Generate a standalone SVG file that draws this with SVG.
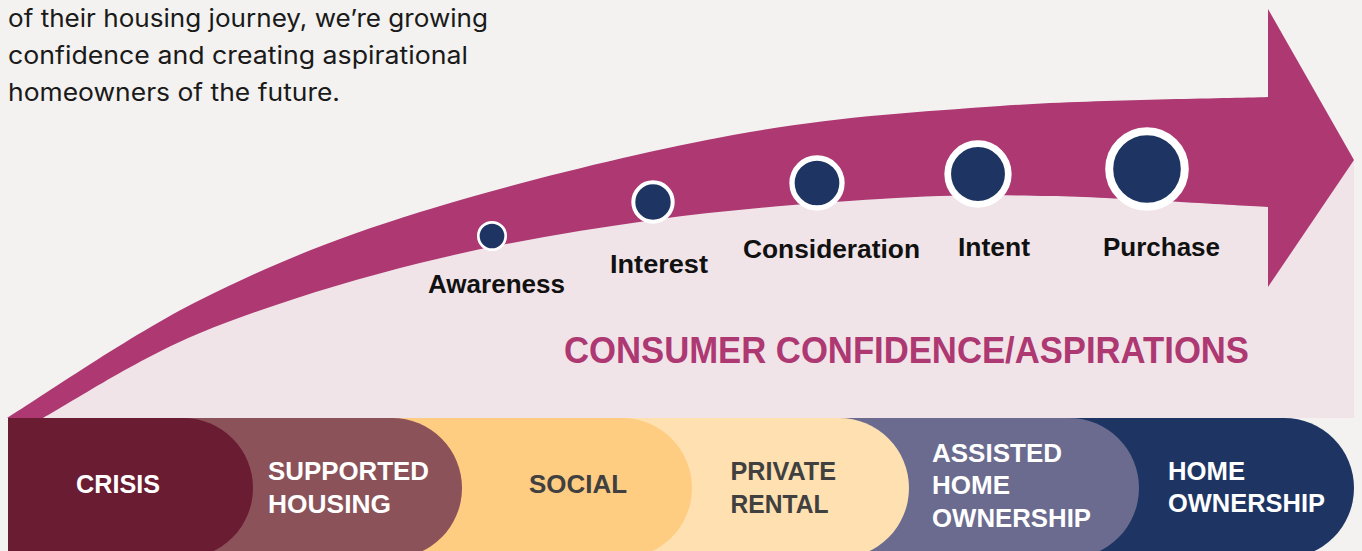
<svg xmlns="http://www.w3.org/2000/svg" width="1362" height="551" viewBox="0 0 1362 551">
<style>
.body{font-family:Inter,"Liberation Sans",sans-serif;font-size:24.5px;fill:#1a1a1a}
.stage{font-family:"Liberation Sans",Arial,sans-serif;font-weight:bold;font-size:25.5px;fill:#111111}
.band{font-family:"Liberation Sans",Arial,sans-serif;font-weight:bold;font-size:25.5px}
.w{fill:#ffffff}
.d{fill:#404040}
.dot{fill:#1e3563;stroke:#ffffff}
</style>
<rect x="0" y="0" width="1362" height="551" fill="#f3f2f0"/>
<g id="intro-text">
<text class="body" x="8" y="27" textLength="480" lengthAdjust="spacingAndGlyphs">of their housing journey, we’re growing</text>
<text class="body" x="8" y="63.5" textLength="460" lengthAdjust="spacingAndGlyphs">confidence and creating aspirational</text>
<text class="body" x="8" y="100.5" textLength="332" lengthAdjust="spacingAndGlyphs">homeowners of the future.</text>
</g>
<g id="confidence-area">
<path d="M43,418 C69.2,403.8 137.2,358.8 200,333 C262.8,307.2 344.5,281.8 420,263 C495.5,244.2 576.3,230.7 653,220 C729.7,209.3 813.8,203 880,199 C946.2,195 985.5,194.7 1050,196 C1114.5,197.3 1230.8,205.2 1267,207 L1268,160 L1354,160 L1354,418 Z" fill="#f0e4e8"/>
</g>
<g id="arrow">
<path d="M7,418 C39.2,398.3 131.2,334.3 200,300 C268.8,265.7 331.2,239.5 420,212 C508.8,184.5 636.3,152.7 733,135 C829.7,117.3 911,112.3 1000,106 C1089,99.7 1222.5,98.5 1268,97 L1268,9 L1354,160 L1268,287 L1268,207 C1230.8,205.2 1114.5,197.3 1050,196 C985.5,194.7 946.2,195 880,199 C813.8,203 729.7,209.3 653,220 C576.3,230.7 495.5,244.2 420,263 C344.5,281.8 262.8,307.2 200,333 C137.2,358.8 69.2,403.8 43,418 Z" fill="#ad3872"/>
</g>
<g id="stage-awareness">
<circle class="dot" cx="492" cy="236" r="13.7" stroke-width="2.7"/>
<text class="stage" x="428" y="293" textLength="137" lengthAdjust="spacingAndGlyphs">Awareness</text>
</g>
<g id="stage-interest">
<circle class="dot" cx="653" cy="202" r="19.7" stroke-width="4"/>
<text class="stage" x="610" y="273" textLength="98" lengthAdjust="spacingAndGlyphs">Interest</text>
</g>
<g id="stage-consideration">
<circle class="dot" cx="817" cy="183" r="25" stroke-width="5.3"/>
<text class="stage" x="743" y="258" textLength="177" lengthAdjust="spacingAndGlyphs">Consideration</text>
</g>
<g id="stage-intent">
<circle class="dot" cx="978" cy="174" r="30.3" stroke-width="6.7"/>
<text class="stage" x="958" y="256" textLength="72" lengthAdjust="spacingAndGlyphs">Intent</text>
</g>
<g id="stage-purchase">
<circle class="dot" cx="1147" cy="169" r="37.8" stroke-width="8"/>
<text class="stage" x="1103" y="256" textLength="117" lengthAdjust="spacingAndGlyphs">Purchase</text>
</g>
<g id="axis-label">
<text x="564" y="363" font-family="'Liberation Sans',Arial,sans-serif" font-weight="bold" font-size="37.5" fill="#ad3872" textLength="685" lengthAdjust="spacingAndGlyphs">CONSUMER CONFIDENCE/ASPIRATIONS</text>
</g>
<g id="band-home-ownership">
<path d="M8,418 H1284 A70,70 0 0 1 1284,558 H8 Z" fill="#1e3563"/>
<text class="band w" x="1168" y="480" textLength="77" lengthAdjust="spacingAndGlyphs">HOME</text>
<text class="band w" x="1168" y="512" textLength="157" lengthAdjust="spacingAndGlyphs">OWNERSHIP</text>
</g>
<g id="band-assisted">
<path d="M8,418 H1069 A70,70 0 0 1 1069,558 H8 Z" fill="#6a6b8f"/>
<text class="band w" x="932" y="462" textLength="130" lengthAdjust="spacingAndGlyphs">ASSISTED</text>
<text class="band w" x="932" y="494" textLength="78" lengthAdjust="spacingAndGlyphs">HOME</text>
<text class="band w" x="932" y="527" textLength="159" lengthAdjust="spacingAndGlyphs">OWNERSHIP</text>
</g>
<g id="band-private-rental">
<path d="M8,418 H839 A70,70 0 0 1 839,558 H8 Z" fill="#fee0b1"/>
<text class="band d" x="730.5" y="480" textLength="105.5" lengthAdjust="spacingAndGlyphs">PRIVATE</text>
<text class="band d" x="730.5" y="513" textLength="98" lengthAdjust="spacingAndGlyphs">RENTAL</text>
</g>
<g id="band-social">
<path d="M8,418 H622 A70,70 0 0 1 622,558 H8 Z" fill="#fecd82"/>
<text class="band d" x="529" y="493" textLength="98" lengthAdjust="spacingAndGlyphs">SOCIAL</text>
</g>
<g id="band-supported-housing">
<path d="M8,418 H392 A70,70 0 0 1 392,558 H8 Z" fill="#8b525a"/>
<text class="band w" x="268" y="480" textLength="161" lengthAdjust="spacingAndGlyphs">SUPPORTED</text>
<text class="band w" x="268" y="513" textLength="123" lengthAdjust="spacingAndGlyphs">HOUSING</text>
</g>
<g id="band-crisis">
<path d="M8,418 H183 A70,70 0 0 1 183,558 H8 Z" fill="#6a1c33"/>
<text class="band w" x="76" y="493" textLength="84" lengthAdjust="spacingAndGlyphs">CRISIS</text>
</g>
</svg>
